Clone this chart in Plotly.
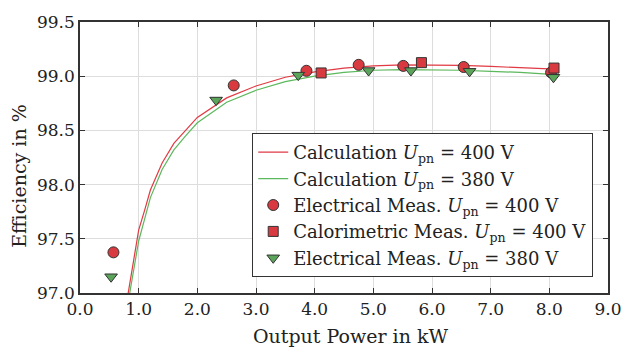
import plotly.graph_objects as go

# Calculation curves
calc_p = [0.8, 1.0, 1.1, 1.2, 1.4, 1.6, 1.8, 2.0, 2.5, 3.0, 3.5, 4.0, 4.5, 5.0, 5.5, 6.0, 6.5, 7.0, 7.5, 8.1]
calc_400 = [96.93, 97.58, 97.76, 97.95, 98.2, 98.38, 98.5, 98.62, 98.8, 98.91, 98.99, 99.04, 99.075, 99.095, 99.105, 99.105, 99.1, 99.09, 99.08, 99.065]
calc_380 = [96.85, 97.48, 97.68, 97.88, 98.14, 98.32, 98.45, 98.57, 98.76, 98.87, 98.95, 99.0, 99.035, 99.055, 99.06, 99.06, 99.055, 99.045, 99.035, 99.015]

# Measurements
el400_p = [0.57, 2.62, 3.86, 4.75, 5.51, 6.54, 8.03]
el400_e = [97.375, 98.915, 99.05, 99.105, 99.095, 99.085, 99.035]
cal400_p = [4.11, 5.82, 8.08]
cal400_e = [99.03, 99.125, 99.075]
el380_p = [0.53, 2.32, 3.72, 4.92, 5.64, 6.64, 8.07]
el380_e = [97.15, 98.78, 99.01, 99.052, 99.052, 99.045, 98.99]

x_title = "Output Power in kW"
y_title = "Efficiency in %"

red_line = "#e03a44"
green_line = "#5cb85c"
red_fill = "#d93a40"
green_fill = "#5aa55a"
edge = "#333333"
text_col = "#222222"
font_family = "DejaVu Serif"

fig = go.Figure()
fig.add_trace(go.Scatter(x=calc_p, y=calc_400, mode="lines", line=dict(color=red_line, width=1.2),
                         name="Calculation <i>U</i><sub>pn</sub> = 400 V"))
fig.add_trace(go.Scatter(x=calc_p, y=calc_380, mode="lines", line=dict(color=green_line, width=1.2),
                         name="Calculation <i>U</i><sub>pn</sub> = 380 V"))
fig.add_trace(go.Scatter(x=el400_p, y=el400_e, mode="markers",
                         marker=dict(symbol="circle", size=11, color=red_fill, line=dict(color=edge, width=1)),
                         name="Electrical Meas. <i>U</i><sub>pn</sub> = 400 V"))
fig.add_trace(go.Scatter(x=cal400_p, y=cal400_e, mode="markers",
                         marker=dict(symbol="square", size=10, color=red_fill, line=dict(color=edge, width=1)),
                         name="Calorimetric Meas. <i>U</i><sub>pn</sub> = 400 V"))
fig.add_trace(go.Scatter(x=el380_p, y=el380_e, mode="markers",
                         marker=dict(symbol="triangle-down", size=11, color=green_fill, line=dict(color=edge, width=1)),
                         name="Electrical Meas. <i>U</i><sub>pn</sub> = 380 V"))

axis_common = dict(showgrid=True, gridcolor="#dddddd", gridwidth=1, zeroline=False,
                   showline=True, linecolor="#333333", linewidth=1.5, mirror="allticks",
                   ticks="inside", ticklen=5, tickcolor="#333333", tickformat=".1f",
                   tickfont=dict(size=17, color=text_col, family=font_family))

fig.update_xaxes(range=[0, 9], dtick=1, **axis_common)
fig.update_yaxes(range=[97, 99.5], dtick=0.5, **axis_common)

fig.add_annotation(text=x_title, xref="paper", yref="paper", x=0.513, y=-0.158,
                   xanchor="center", yanchor="middle", showarrow=False,
                   font=dict(size=19, family=font_family, color=text_col))
fig.add_annotation(text=y_title, xref="paper", yref="paper", x=-0.115, y=0.43,
                   xanchor="center", yanchor="middle", showarrow=False, textangle=-90,
                   font=dict(size=19, family=font_family, color=text_col))

fig.update_layout(
    width=634, height=353,
    margin=dict(l=80, r=14, t=16, b=60),
    plot_bgcolor="white", paper_bgcolor="white",
    font=dict(family=font_family, size=17, color=text_col),
    legend=dict(x=0.972, y=0.059, xanchor="right", yanchor="bottom",
                bgcolor="white", bordercolor="#333333", borderwidth=1,
                font=dict(size=18, family=font_family), tracegroupgap=0, itemwidth=30),
    showlegend=True,
)

fig.write_html("out.html")
